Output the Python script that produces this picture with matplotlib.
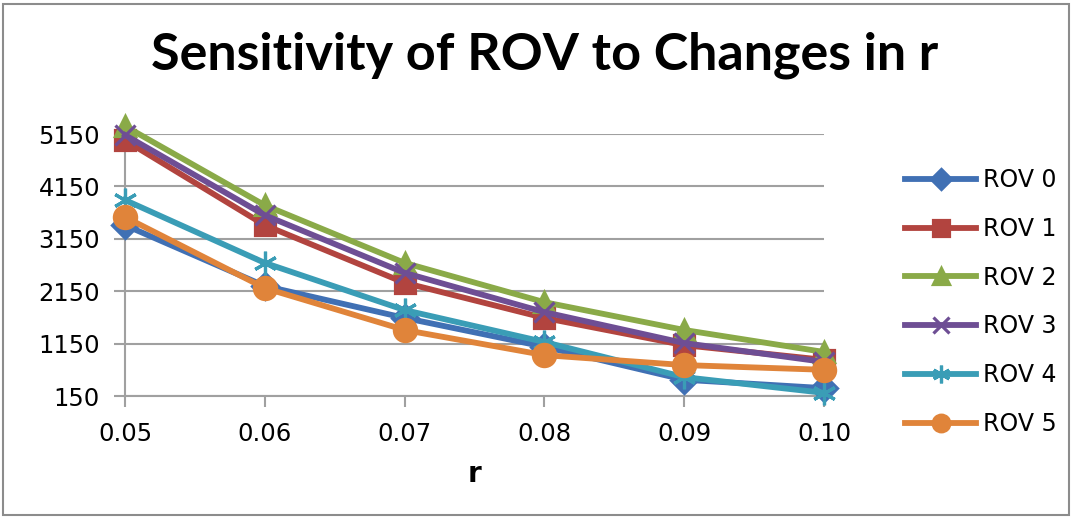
import matplotlib
matplotlib.use("Agg")
import matplotlib.pyplot as plt
from matplotlib.patches import Rectangle

plt.rcParams["font.family"] = "DejaVu Sans"

r_labels = ["0.05", "0.06", "0.07", "0.08", "0.09", "0.10"]
rov0 = [3410, 2250, 1640, 1090, 460, 300]
rov1 = [5030, 3410, 2310, 1640, 1120, 840]
rov2 = [5300, 3790, 2690, 1940, 1410, 990]
rov3 = [5130, 3600, 2500, 1750, 1160, 800]
rov4 = [3890, 2690, 1790, 1180, 510, 210]
rov5 = [3565, 2210, 1410, 930, 740, 650]
y_ticks = [150, 1150, 2150, 3150, 4150, 5150]

series = [
    ("ROV 0", rov0, "#4070B4", "D", 13),
    ("ROV 1", rov1, "#B2443F", "s", 15),
    ("ROV 2", rov2, "#8AAA48", "^", 15),
    ("ROV 3", rov3, "#6E4E94", "x", 15),
    ("ROV 4", rov4, "#3A9DB6", (6, 2, 0), 17),
    ("ROV 5", rov5, "#E0843A", "o", 16),
]

fig = plt.figure(figsize=(10.74, 5.18), dpi=100)
ax = fig.add_axes([125 / 1074, 1 - 396 / 518, (824 - 125) / 1074, (396 - 134) / 518])

x = list(range(len(r_labels)))
for name, vals, color, marker, ms in series:
    ax.plot(x, vals, color=color, lw=4.2, label=name, marker=marker,
            ms=ms, mew=2.3, mec=color, clip_on=False, zorder=3)

ax.set_xlim(0, len(r_labels) - 1)
ax.set_ylim(150, 5150)
ax.set_yticks(y_ticks)
ax.set_xticks(x)
ax.set_xticklabels(r_labels)
ax.yaxis.grid(True, color="#A0A0A0", lw=1.5)
ax.set_axisbelow(True)
for s in ["top", "right"]:
    ax.spines[s].set_visible(False)
for s in ["left", "bottom"]:
    ax.spines[s].set_color("#A0A0A0")
    ax.spines[s].set_linewidth(1.5)
ax.tick_params(axis="both", colors="#A0A0A0", width=1.5, length=8,
               labelsize=17.5, labelcolor="black")
ax.tick_params(axis="y", pad=10)
ax.tick_params(axis="x", pad=11)

ax.set_xlabel("r", fontsize=20, fontweight="bold", labelpad=10)
fig.text(545 / 1074, 1 - 55 / 518, "Sensitivity of ROV to Changes in r",
         ha="center", va="center", fontsize=37.5, fontweight="bold", family="Lato")

ax.legend(loc="center left", bbox_to_anchor=(884 / 1074, 1 - 302 / 518),
          bbox_transform=fig.transFigure, frameon=False, fontsize=17,
          handlelength=3.0, labelspacing=1.05, handletextpad=0.3, markerscale=0.75)

fig.patches.append(Rectangle((3 / 1074, 3 / 518), 1066 / 1074, 511 / 518,
                             transform=fig.transFigure, fill=False,
                             edgecolor="#8C8C8C", lw=1.5))

fig.savefig("out.png", dpi=100)
